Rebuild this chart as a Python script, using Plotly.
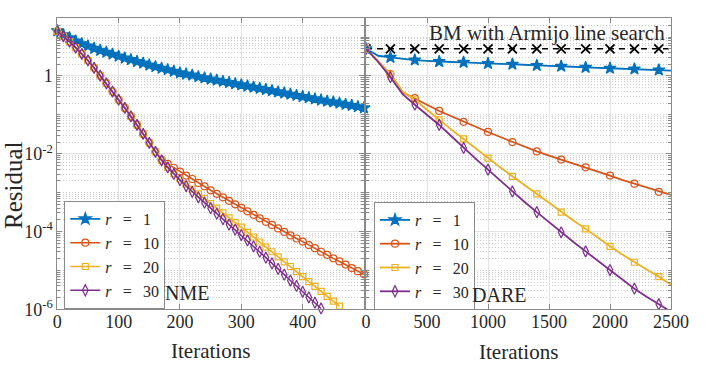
import plotly.graph_objects as go

# ---- data -----------------------------------------------------------------
# NME panel: residual sampled every 10 iterations
nme_iters = list(range(0, 510, 10))

nme_r1 = [14.5, 11.5, 9.55, 7.94, 6.76, 5.89, 5.13, 4.57, 4.07, 3.63,
          3.24, 2.88, 2.63, 2.34, 2.14, 1.91, 1.74, 1.58, 1.45, 1.32,
          1.20, 1.12, 1.05, 0.955, 0.891, 0.832, 0.776, 0.724, 0.676, 0.631,
          0.589, 0.550, 0.513, 0.479, 0.447, 0.417, 0.389, 0.363, 0.339, 0.316,
          0.295, 0.275, 0.257, 0.240, 0.224, 0.214, 0.200, 0.186, 0.174, 0.162,
          0.151]

nme_r10 = [14.1, 10.5, 7.59, 5.37, 3.72, 2.51, 1.62, 1.02, 0.646, 0.398,
           0.245, 0.151, 0.0912, 0.0550, 0.0324, 0.0191, 0.0112, 6.92e-3, 5.50e-3, 4.37e-3,
           3.47e-3, 2.75e-3, 2.24e-3, 1.78e-3, 1.45e-3, 1.15e-3, 9.33e-4, 7.59e-4, 6.17e-4, 5.01e-4,
           4.07e-4, 3.31e-4, 2.69e-4, 2.19e-4, 1.78e-4, 1.48e-4, 1.20e-4, 9.77e-5, 7.94e-5, 6.61e-5,
           5.50e-5, 4.47e-5, 3.72e-5, 3.02e-5, 2.51e-5, 2.04e-5, 1.70e-5, 1.41e-5, 1.15e-5, 9.55e-6,
           7.94e-6]

nme_r20 = [14.1, 10.5, 7.59, 5.37, 3.72, 2.51, 1.62, 1.02, 0.646, 0.398,
           0.245, 0.151, 0.0912, 0.0550, 0.0324, 0.0191, 0.0112, 6.76e-3, 4.47e-3, 3.09e-3,
           2.24e-3, 1.66e-3, 1.23e-3, 9.33e-4, 7.08e-4, 5.25e-4, 3.98e-4, 3.02e-4, 2.24e-4, 1.70e-4,
           1.29e-4, 9.55e-5, 7.24e-5, 5.37e-5, 3.98e-5, 3.02e-5, 2.24e-5, 1.66e-5, 1.26e-5, 9.33e-6,
           6.92e-6, 5.13e-6, 3.89e-6, 2.88e-6, 2.14e-6, 1.62e-6, 1.20e-6]

nme_r30 = [14.1, 10.5, 7.59, 5.37, 3.72, 2.51, 1.62, 1.02, 0.646, 0.398,
           0.245, 0.151, 0.0912, 0.0550, 0.0324, 0.0191, 0.0112, 6.76e-3, 4.47e-3, 3.02e-3,
           2.09e-3, 1.48e-3, 1.05e-3, 7.59e-4, 5.50e-4, 3.98e-4, 2.88e-4, 2.09e-4, 1.51e-4, 1.12e-4,
           8.13e-5, 5.89e-5, 4.17e-5, 3.02e-5, 2.14e-5, 1.51e-5, 1.10e-5, 7.76e-6, 5.50e-6, 3.98e-6,
           2.82e-6, 2.04e-6, 1.48e-6, 1.05e-6]

# DARE panel: residual sampled every 100 iterations (markers every 200)
dare_iters = list(range(0, 2600, 100))

dare_bm = [5.0] * 26

dare_r1 = [5.01, 3.31, 3.02, 2.75, 2.57, 2.45, 2.34, 2.29, 2.24, 2.14,
           2.09, 2.04, 2.00, 1.91, 1.86, 1.82, 1.78, 1.70, 1.66, 1.62,
           1.58, 1.55, 1.51, 1.48, 1.43, 1.38]

dare_r10 = [5.01, 2.40, 1.12, 0.380, 0.269, 0.182, 0.126, 0.0912, 0.0661, 0.0490,
            0.0363, 0.0269, 0.0200, 0.0151, 0.0115, 8.91e-3, 7.08e-3, 5.62e-3, 4.47e-3, 3.47e-3,
            2.75e-3, 2.14e-3, 1.70e-3, 1.32e-3, 1.05e-3, 8.71e-4]

dare_r20 = [5.01, 2.40, 1.10, 0.398, 0.245, 0.135, 0.0741, 0.0417, 0.0240, 0.0135,
            7.76e-3, 4.47e-3, 2.63e-3, 1.55e-3, 9.33e-4, 5.37e-4, 3.16e-4, 1.91e-4, 1.17e-4, 6.92e-5,
            4.17e-5, 2.57e-5, 1.62e-5, 1.05e-5, 6.92e-6, 4.27e-6]

dare_r30 = [5.01, 2.29, 0.933, 0.339, 0.182, 0.100, 0.0550, 0.0282, 0.0141, 7.41e-3,
            3.89e-3, 2.04e-3, 1.07e-3, 5.75e-4, 3.16e-4, 1.74e-4, 9.55e-5, 5.37e-5, 3.09e-5, 1.78e-5,
            1.02e-5, 5.89e-6, 3.39e-6, 2.09e-6, 1.35e-6, 8.71e-7]

ranks = [1, 10, 20, 30]
y_tick_vals = [1e-6, 1e-4, 1e-2, 1]
y_tick_text = ["10<sup>-6</sup>", "10<sup>-4</sup>", "10<sup>-2</sup>", "1"]

# ---- styling --------------------------------------------------------------
COLOURS = ["#0072BD", "#D95319", "#EDB120", "#7E2F8E"]
SYMBOLS = ["star", "circle-open", "square-open", "diamond-tall-open"]
SIZES = [9, 7, 6, 8]
FONT = "Liberation Serif"
TEXT = "#262626"
AXIS_LINE = "#8a8a8a"
GRID = "#e3e3e3"
MINOR_GRID = "#cccccc"

W, H = 718, 374


def px_x(p):
    return p / W


def px_y(p):
    return 1 - p / H


def label(r):
    return "<i>r</i>\u2002\u2009=\u2002\u2009" + str(r)


fig = go.Figure()

nme_series = [nme_r1, nme_r10, nme_r20, nme_r30]
for i, vals in enumerate(nme_series):
    fig.add_trace(go.Scatter(
        x=nme_iters[:len(vals)], y=vals, mode="lines+markers",
        name=label(ranks[i]), legend="legend",
        line=dict(color=COLOURS[i], width=1.6),
        marker=dict(symbol=SYMBOLS[i], size=SIZES[i], color=COLOURS[i],
                    line=dict(color=COLOURS[i], width=1.2)),
        cliponaxis=False, xaxis="x", yaxis="y",
    ))

mark_idx = [k for k, it in enumerate(dare_iters) if it % 200 == 0]

fig.add_trace(go.Scatter(
    x=dare_iters, y=dare_bm, mode="lines+markers", showlegend=False,
    line=dict(color="black", width=1.6, dash="6px,5px"),
    marker=dict(symbol="x-thin-open", size=9, color="black",
                line=dict(color="black", width=1.8)),
    selectedpoints=mark_idx, unselected=dict(marker=dict(opacity=0)),
    xaxis="x2", yaxis="y2",
))

dare_series = [dare_r1, dare_r10, dare_r20, dare_r30]
for i, vals in enumerate(dare_series):
    fig.add_trace(go.Scatter(
        x=dare_iters, y=vals, mode="lines+markers",
        name=label(ranks[i]), legend="legend2",
        line=dict(color=COLOURS[i], width=1.8),
        marker=dict(symbol=SYMBOLS[i], size=SIZES[i], color=COLOURS[i],
                    line=dict(color=COLOURS[i], width=1.2)),
        selectedpoints=mark_idx, unselected=dict(marker=dict(opacity=0)),
        xaxis="x2", yaxis="y2",
    ))

minor_vals = []
for k in range(-6, 2):
    for m in range(1, 10):
        v = m * 10.0 ** k
        if m == 1 and k % 2 == 0:
            continue
        minor_vals.append(v)

tick_font = dict(family=FONT, size=18, color=TEXT)
common_x = dict(
    showline=True, linecolor=AXIS_LINE, linewidth=1, mirror="allticks",
    ticks="inside", ticklen=5, tickcolor=AXIS_LINE, showgrid=True,
    gridcolor=GRID, gridwidth=1, zeroline=False, tickfont=tick_font,
    automargin=False, ticklabelstandoff=-4,
)
common_y = dict(
    type="log", range=[-6, 1.483], tickmode="array", tickvals=y_tick_vals,
    showline=True, linecolor=AXIS_LINE, linewidth=1, mirror="allticks",
    ticks="inside", ticklen=5, tickcolor=AXIS_LINE, showgrid=True,
    gridcolor=GRID, gridwidth=1, zeroline=False, tickfont=tick_font,
    automargin=False,
    minor=dict(tickmode="array", tickvals=minor_vals, ticks="inside", ticklen=3,
               tickcolor=AXIS_LINE, showgrid=True, gridcolor=MINOR_GRID,
               griddash="1px,2px", gridwidth=1),
)

legend_style = dict(
    bgcolor="white", bordercolor=AXIS_LINE, borderwidth=1,
    font=dict(family=FONT, size=16, color=TEXT), itemwidth=30,
    xanchor="left", yanchor="top", tracegroupgap=0,
)

fig.update_layout(
    width=W, height=H, margin=dict(l=0, r=0, t=0, b=0),
    paper_bgcolor="white", plot_bgcolor="white", showlegend=True,
    xaxis=dict(common_x, domain=[px_x(57.3), px_x(364)], range=[0, 500],
               tickmode="array", tickvals=[0, 100, 200, 300, 400], anchor="y"),
    yaxis=dict(common_y, domain=[px_y(309.3), px_y(18.3)], anchor="x",
               ticktext=y_tick_text),
    xaxis2=dict(common_x, domain=[px_x(366), px_x(671)], range=[0, 2500],
                tickmode="array", tickvals=[0, 500, 1000, 1500, 2000, 2500], anchor="y2"),
    yaxis2=dict(common_y, domain=[px_y(309.3), px_y(18.3)], anchor="x2",
                showticklabels=False),
    legend=dict(legend_style, x=px_x(64.3), y=px_y(201)),
    legend2=dict(legend_style, x=px_x(374), y=px_y(202)),
)

ann_font = lambda s: dict(family=FONT, size=s, color=TEXT)
annotations = [
    dict(text="Residual", x=px_x(13), y=px_y(185), textangle=-90, font=ann_font(25),
         xanchor="center", yanchor="middle"),
    dict(text="Iterations", x=px_x(210.6), y=px_y(351), font=ann_font(21),
         xanchor="center", yanchor="middle"),
    dict(text="Iterations", x=px_x(518.5), y=px_y(352), font=ann_font(21),
         xanchor="center", yanchor="middle"),
    dict(text="NME", x=px_x(163), y=px_y(293), font=ann_font(20),
         xanchor="left", yanchor="middle"),
    dict(text="DARE", x=px_x(470), y=px_y(295), font=ann_font(20),
         xanchor="left", yanchor="middle"),
    dict(text="BM with Armijo line search", x=px_x(667), y=px_y(33), font=ann_font(21),
         xanchor="right", yanchor="middle"),
]
for a in annotations:
    a.update(xref="paper", yref="paper", showarrow=False)
fig.update_layout(annotations=annotations)

# drop the browser's default body margin so the figure sits at the page corner
fig.write_html("out.html", config={"displayModeBar": False},
               post_script="document.body.style.margin = '0';")
